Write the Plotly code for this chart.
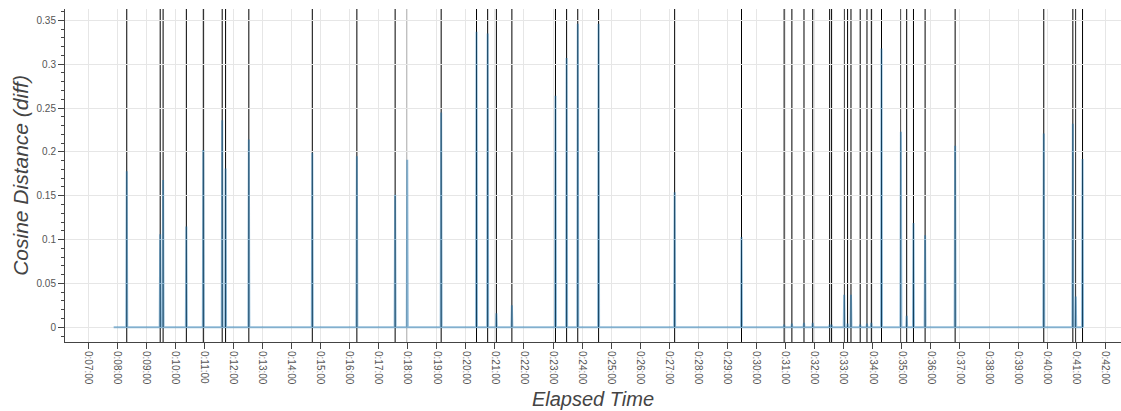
import plotly.graph_objects as go

# Shot boundaries (seconds of elapsed time) and the cosine-distance diff at each cut
cut_times = [500, 569, 575, 623, 658, 697, 704, 752, 883, 975,
             1054, 1079, 1149, 1222, 1245, 1263, 1295, 1385, 1408, 1431,
             1474, 1631, 1769, 1857, 1873, 1898, 1916, 1951, 1955, 1981,
             1988, 1995, 2014, 2028, 2037, 2058, 2098, 2110, 2124, 2148,
             2210, 2393, 2453, 2459, 2473]
cut_values = [0.178, 0.106, 0.168, 0.115, 0.202, 0.236, 0.181, 0.214, 0.199, 0.195,
              0.151, 0.191, 0.245, 0.337, 0.335, 0.016, 0.025, 0.264, 0.307, 0.346,
              0.346, 0.154, 0.103, 0.003, 0.004, 0.005, 0.005, 0.003, 0.003, 0.037,
              0.004, 0.037, 0.003, 0.004, 0.005, 0.318, 0.223, 0.013, 0.119, 0.105,
              0.207, 0.221, 0.232, 0.035, 0.192]

series_start = 473
series_end = 2474
frame_step = 1

tick_seconds = list(range(420, 2521, 60))
tick_labels = [f"0:{s // 60:02d}:00" for s in tick_seconds]

# Build the diff series: flat at zero with a one-frame spike at every cut
xs, ys = [series_start], [0.0]
for t, v in zip(cut_times, cut_values):
    xs += [t - frame_step, t, t + frame_step]
    ys += [0.0, v, 0.0]
xs.append(series_end)
ys.append(0.0)

fig = go.Figure()
fig.add_trace(go.Scatter(
    x=xs, y=ys, mode="lines",
    line=dict(color="rgba(31,119,180,0.5)", width=2),
    showlegend=False, hoverinfo="x+y",
))

for t in cut_times:
    fig.add_shape(type="line", xref="x", yref="paper", x0=t, x1=t, y0=0, y1=1,
                  line=dict(color="black", width=1), layer="between")

fig.update_layout(
    width=1121, height=411,
    margin=dict(l=65, r=0, t=9, b=69),
    plot_bgcolor="white", paper_bgcolor="white",
    font=dict(family="Liberation Sans, Arial, sans-serif", color="#444"),
    showlegend=False,
)

fig.update_xaxes(
    range=[372.5, 2552.4],
    tickmode="array", tickvals=tick_seconds, ticktext=tick_labels,
    tickangle=90, tickfont=dict(size=10, color="#555"),
    ticks="outside", ticklen=6, tickcolor="#444",
    showline=True, linecolor="#444", linewidth=1,
    showgrid=True, gridcolor="#e6e6e6", gridwidth=1,
    zeroline=False,
    title=dict(text="<i>Elapsed Time</i>", font=dict(size=20, color="#444"), standoff=8),
)

fig.update_yaxes(
    range=[-0.0168, 0.3629],
    tickmode="linear", tick0=0, dtick=0.05,
    tickfont=dict(size=10, color="#555"),
    ticks="outside", ticklen=6, tickcolor="#444",
    minor=dict(dtick=0.01, ticks="outside", ticklen=3, tickcolor="#444", showgrid=False),
    showline=True, linecolor="#444", linewidth=1,
    showgrid=True, gridcolor="#e6e6e6", gridwidth=1,
    zeroline=False,
    title=dict(text="<i>Cosine Distance (diff)</i>", font=dict(size=21, color="#444"), standoff=2),
)

fig.write_html("out.html")
